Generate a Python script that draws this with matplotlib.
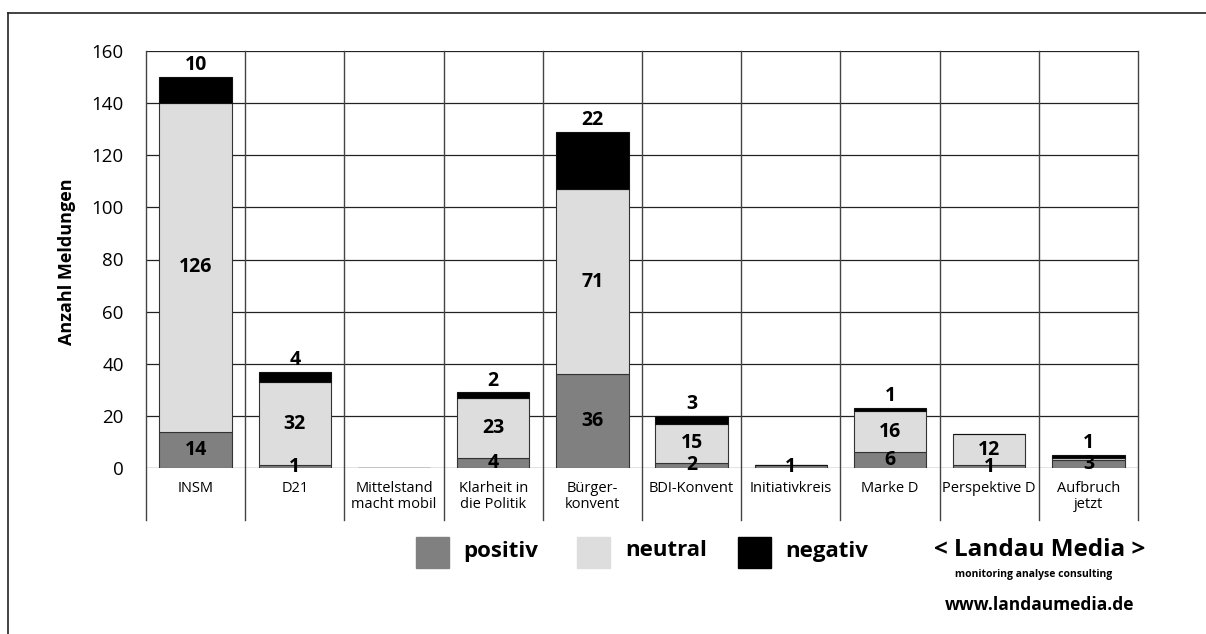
import matplotlib
matplotlib.use("Agg")
import matplotlib.pyplot as plt
from matplotlib.lines import Line2D
from matplotlib.patches import Rectangle
import numpy as np

plt.rcParams['font.family'] = ['Open Sans', 'DejaVu Sans']

categories = ["INSM", "D21", "Mittelstand\nmacht mobil", "Klarheit in\ndie Politik",
              "Bürger-\nkonvent", "BDI-Konvent", "Initiativkreis", "Marke D",
              "Perspektive D", "Aufbruch\njetzt"]
positiv = [14, 1, 0, 4, 36, 2, 1, 6, 1, 3]
neutral = [126, 32, 0, 23, 71, 15, 0, 16, 12, 1]
negativ = [10, 4, 0, 2, 22, 3, 0, 1, 0, 1]
y_ticks = [0, 20, 40, 60, 80, 100, 120, 140, 160]

col_pos = "#808080"
col_neu = "#dddddd"
col_neg = "#000000"

W, H = 1206, 634
fig = plt.figure(figsize=(W / 100, H / 100), dpi=100)

# outer frame (top + left visible)
fig.add_artist(Line2D([8 / W, 1.0], [1 - 13 / H, 1 - 13 / H], color="#222222", lw=1.2))
fig.add_artist(Line2D([8 / W, 8 / W], [0, 1 - 13 / H], color="#222222", lw=1.2))

left, right, top, bottom = 146, 1138, 51, 468
ax = fig.add_axes([left / W, 1 - bottom / H, (right - left) / W, (bottom - top) / H])

n = len(categories)
x = np.arange(n)
pos = np.array(positiv)
neu = np.array(neutral)
neg = np.array(negativ)

bw = 0.73
ax.bar(x, pos, bw, color=col_pos, edgecolor="#333333", linewidth=0.8, zorder=3)
ax.bar(x, neu, bw, bottom=pos, color=col_neu, edgecolor="#333333", linewidth=0.8, zorder=3)
ax.bar(x, neg, bw, bottom=pos + neu, color=col_neg, edgecolor="#111111", linewidth=0.8, zorder=3)

ax.set_xlim(-0.5, n - 0.5)
ax.set_ylim(0, 160)
ax.set_yticks(y_ticks)
ax.set_yticklabels([str(t) for t in y_ticks], fontsize=13.5)
ax.tick_params(axis="y", length=0, pad=16)
ax.set_xticks(x)
ax.set_xticklabels(categories, fontsize=10.5, linespacing=1.15)
ax.tick_params(axis="x", length=0, pad=9)

for t in y_ticks:
    ax.axhline(t, color="#222222", lw=0.9, zorder=1)
for s in ax.spines.values():
    s.set_visible(False)

ext = -(520 - 468) / (468 - 51)
for b in np.arange(-0.5, n, 1.0):
    ax.add_line(Line2D([b, b], [ext * 160, 160], color="#444444", lw=1.0,
                       clip_on=False, zorder=1))

lab_fs = 14
for i in range(n):
    if pos[i] > 0:
        ax.text(x[i], pos[i] / 2, str(pos[i]), ha="center", va="center",
                fontsize=lab_fs, fontweight="bold", zorder=5)
    if neu[i] > 1:
        ax.text(x[i], pos[i] + neu[i] / 2, str(neu[i]), ha="center", va="center",
                fontsize=lab_fs, fontweight="bold", zorder=5)
    if neg[i] > 0:
        ax.text(x[i], pos[i] + neu[i] + neg[i] + 0.6, str(neg[i]), ha="center",
                va="bottom", fontsize=lab_fs, fontweight="bold", zorder=5)

fig.text(67 / W, 1 - 262 / H, "Anzahl Meldungen", rotation=90, ha="center",
         va="center", fontsize=13, fontweight="bold")

# legend
legend_items = [("positiv", col_pos, 416, 463), ("neutral", col_neu, 577, 625),
                ("negativ", col_neg, 738, 785)]
for label, c, sx, tx in legend_items:
    fig.add_artist(Rectangle((sx / W, 1 - 568 / H), 33 / W, 31 / H, color=c,
                             transform=fig.transFigure))
    fig.text(tx / W, 1 - 551 / H, label, ha="left", va="center", fontsize=16,
             fontweight="bold")

fig.text(1040 / W, 1 - 550 / H, "< Landau Media >", ha="center", va="center",
         fontsize=17.5, fontweight="bold")
fig.text(1034 / W, 1 - 575 / H, "monitoring analyse consulting", ha="center",
         va="center", fontsize=7.5, fontweight="bold")
fig.text(1040 / W, 1 - 605 / H, "www.landaumedia.de", ha="center", va="center",
         fontsize=12.5, fontweight="bold")

fig.savefig("out.png", dpi=100)
